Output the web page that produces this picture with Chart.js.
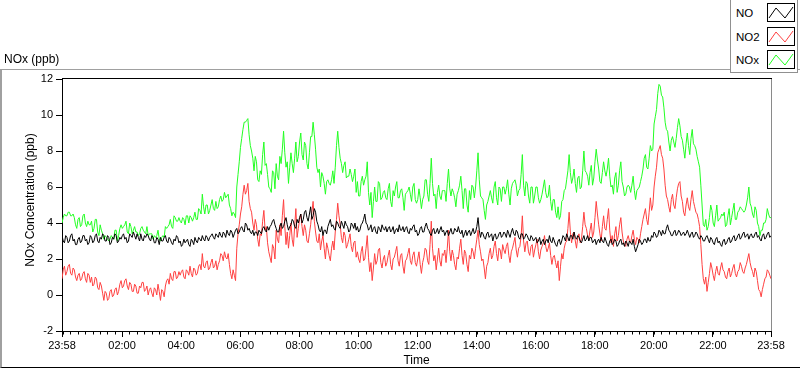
<!DOCTYPE html>
<html>
<head>
<meta charset="utf-8">
<script src="https://cdn.jsdelivr.net/npm/chart.js@4.4.1/dist/chart.umd.min.js"></script>
<style>
    html, body { margin: 0; padding: 0; background: #fff; }
    body { width: 800px; height: 369px; position: relative; overflow: hidden; font-family: "Liberation Sans", Arial, sans-serif; color: #000; }
    #panel { position: absolute; left: 0; top: 69px; width: 830px; height: 297px; border-top: 1px solid #a0a0a0; border-left: 2px solid #a0a0a0; border-bottom: 1px solid #000; }
    #chart { position: absolute; left: 0; top: 0; }
    #title { position: absolute; left: 4px; top: 52px; font-size: 12px; line-height: 14px; }
    #legend { position: absolute; left: 730px; top: -1px; width: 66px; height: 72px; border: 1px solid #909090; background: #fff; z-index: 2; }
    .row { position: absolute; left: 0; width: 66px; height: 20px; }
    .row span { position: absolute; left: 5px; top: 3px; font-size: 11.5px; line-height: 14px; }
    .row svg { position: absolute; left: 36px; top: 0; }
</style>
</head>
<body>
<div id="panel"></div>
<canvas id="chart" width="800" height="369"></canvas>
<div id="title">NOx (ppb)</div>
<div id="legend"></div>
<script>
// ======================================================================
// Data: samples every 5 minutes from 23:58, plus the in-between
// readings (2.5 minutes later) in the *Mid arrays
//
const stepMin = 5;
const seriesNames = ['NO', 'NO2', 'NOx'];
const seriesColors = ['#000000', '#ff4040', '#22ff22'];

const no = [
    3.3,2.9,3.2,3.0,3.4,3.1,2.8,3.2,3.0,3.3,3.1,2.9,
    3.2,3.0,3.4,2.9,3.1,3.3,3.0,3.2,2.9,3.1,3.3,3.0,
    3.1,3.4,3.2,3.0,3.3,3.5,3.1,3.2,3.4,3.0,3.2,3.3,
    3.0,3.2,2.9,3.1,3.2,3.0,3.3,2.9,3.1,2.8,3.0,3.2,
    3.0,2.8,2.9,3.1,2.7,3.0,3.2,2.9,3.1,3.3,3.0,3.2,
    3.2,3.4,3.1,3.3,3.5,3.2,3.4,3.6,3.3,3.5,3.4,3.7,
    3.5,3.8,3.5,3.9,3.7,3.4,3.3,3.5,3.6,3.4,3.8,3.5,
    3.6,3.9,4.2,3.7,3.5,4.0,3.8,4.3,3.6,3.9,4.1,3.7,
    4.0,4.5,4.2,4.7,4.1,4.9,4.4,4.6,3.9,3.5,3.3,3.6,
    3.8,4.2,3.9,3.6,4.0,3.7,3.9,4.1,3.8,3.6,3.9,4.0,
    3.8,3.6,4.0,4.5,3.9,3.7,3.5,3.8,3.4,3.7,3.9,3.6,
    3.5,3.8,3.6,3.4,3.7,3.9,3.6,3.5,3.8,3.4,3.6,3.9,
    3.6,3.4,3.8,3.5,4.0,3.6,3.3,3.7,3.5,3.4,3.8,3.6,
    3.5,3.3,3.7,3.4,3.6,3.8,3.4,3.2,3.6,3.5,3.3,3.7,
    3.5,4.3,3.2,3.4,3.1,3.5,3.3,3.0,3.4,3.2,3.5,3.3,
    3.4,3.6,3.2,3.7,3.3,3.5,3.1,3.4,3.2,3.3,3.0,3.2,
    3.1,2.9,3.2,3.0,2.8,3.1,3.3,2.9,3.0,2.7,3.1,3.0,
    3.2,3.4,3.0,3.3,3.5,3.1,3.2,2.9,3.3,3.1,3.0,3.2,
    3.0,2.8,3.1,3.2,2.9,3.0,2.7,3.1,2.9,3.0,2.8,3.1,
    2.9,3.0,2.7,2.9,3.1,2.4,2.8,3.0,2.9,3.1,3.2,3.0,
    3.2,3.4,3.3,3.5,3.6,3.4,3.9,3.5,3.3,3.6,3.4,3.5,
    3.4,3.3,3.6,3.2,3.5,3.3,3.4,3.1,3.2,3.0,3.3,2.9,
    3.1,2.8,3.2,3.0,2.7,3.1,2.9,3.2,3.0,3.3,3.1,3.4,
    3.2,3.5,3.3,3.1,3.4,3.2,3.5,3.3,3.0,3.4,3.2,3.5,
    3.3
];
const noMid = [
    3.0,3.3,2.9,3.3,3.0,2.8,3.1,2.9,3.3,3.0,2.8,3.3,
    2.9,3.3,3.0,3.2,3.4,3.0,3.3,2.8,3.2,3.4,2.9,3.2,
    3.3,3.1,2.9,3.4,3.2,3.3,3.4,3.0,3.1,3.3,3.4,3.1,
    3.3,2.9,3.2,2.8,3.0,3.2,3.0,3.2,2.9,3.1,3.3,2.9,
    2.7,3.1,3.0,2.8,3.1,2.8,3.0,3.2,3.0,3.1,3.3,3.0,
    3.3,3.2,3.4,3.2,3.3,3.5,3.2,3.4,3.6,3.2,3.6,3.4,
    3.7,3.6,4.0,3.6,3.5,3.6,3.5,3.3,3.5,3.7,3.6,3.8,
    3.8,4.1,3.9,3.5,3.8,3.7,4.1,3.9,3.8,4.2,3.8,4.2,
    4.3,4.0,4.6,4.3,4.5,4.2,4.8,4.1,3.6,3.8,3.6,3.4,
    4.0,3.8,3.7,4.1,3.8,4.1,3.7,3.9,3.5,4.0,3.7,3.6,
    3.5,3.9,4.2,4.0,3.6,3.9,3.7,3.5,3.8,3.5,3.7,3.8,
    3.7,3.5,3.8,3.6,3.5,3.6,3.8,3.7,3.5,3.7,3.8,3.5,
    3.3,3.7,3.5,3.8,3.7,3.4,3.6,3.4,3.7,3.6,3.5,3.3,
    3.6,3.5,3.4,3.7,3.5,3.5,3.6,3.4,3.3,3.6,3.5,3.4,
    3.8,3.6,3.5,3.2,3.4,3.2,3.4,3.3,3.1,3.4,3.2,3.5,
    3.2,3.4,3.5,3.4,3.6,3.2,3.4,3.1,3.4,3.1,3.3,3.0,
    3.2,3.0,2.8,3.1,3.0,2.9,3.0,3.2,2.8,3.0,2.8,3.3,
    3.0,3.2,3.3,3.1,3.2,3.3,3.0,3.1,3.0,3.3,3.2,2.9,
    3.1,3.0,2.9,3.0,3.2,2.8,3.0,2.8,3.1,2.7,3.0,2.8,
    2.7,2.9,3.0,2.8,2.7,2.6,3.1,2.8,3.1,2.9,3.0,3.3,
    3.5,3.2,3.6,3.3,3.4,3.7,3.6,3.3,3.5,3.3,3.6,3.3,
    3.5,3.4,3.4,3.4,3.2,3.5,3.2,3.3,3.0,3.2,3.1,3.2,
    2.9,3.1,2.9,2.8,3.0,2.8,3.1,2.9,3.2,3.0,3.3,3.1,
    3.4,3.2,3.4,3.3,3.2,3.4,3.2,3.1,3.3,3.1,3.4,3.2
];

const no2 = [
    0.9,1.6,1.3,1.7,1.1,1.4,0.8,1.2,0.9,1.3,0.7,1.1,
    1.0,0.6,0.9,0.3,0.5,-0.3,0.1,-0.2,0.3,0.0,0.4,0.2,
    0.8,0.5,0.9,0.3,0.6,0.2,0.5,0.1,0.4,0.7,0.3,0.0,
    0.4,-0.1,0.3,0.6,-0.3,0.2,0.5,0.9,1.2,0.8,1.3,1.0,
    1.1,1.4,0.9,1.3,1.6,1.0,1.4,1.2,1.7,2.3,1.5,1.9,
    1.5,2.0,1.6,1.4,1.9,2.2,2.4,2.0,1.7,0.9,1.1,2.6,
    3.9,4.9,6.1,5.8,5.2,4.6,3.6,3.9,2.7,3.3,4.7,3.8,
    2.4,1.8,2.6,3.6,2.9,3.3,5.3,2.8,2.6,4.0,2.7,4.8,
    3.7,4.5,3.3,3.6,2.9,3.9,5.2,3.5,2.9,2.5,3.3,2.0,
    2.6,1.9,3.0,3.5,5.1,3.9,2.9,3.3,2.8,3.4,2.4,3.0,
    2.4,1.8,2.7,2.0,3.3,1.3,0.8,2.3,1.9,2.6,1.5,2.2,
    1.8,2.5,1.4,2.1,2.7,1.6,2.3,1.2,2.0,2.6,1.7,2.4,
    1.6,2.4,1.2,2.1,2.5,1.7,4.1,1.9,1.4,2.6,1.6,2.2,
    1.8,3.6,1.9,2.2,1.4,2.0,3.1,1.7,2.3,1.3,2.0,2.4,
    2.6,3.6,2.4,2.0,0.9,1.8,2.6,2.2,3.0,1.9,2.5,2.8,
    2.3,2.9,1.8,2.6,3.2,2.1,2.7,4.4,2.4,3.0,2.2,2.8,
    2.5,3.1,2.0,2.7,3.3,2.4,2.9,1.7,2.2,1.5,0.8,2.3,
    2.6,3.0,4.6,2.9,3.5,2.6,3.4,3.1,4.6,3.7,3.1,4.0,
    3.5,5.2,3.9,3.0,4.4,3.6,4.8,2.9,2.7,3.8,3.3,4.3,
    3.0,2.7,3.3,2.9,3.6,2.8,3.1,3.4,4.2,4.8,3.9,5.4,
    5.0,6.6,7.9,8.3,7.6,6.1,5.3,4.6,5.6,4.8,5.9,6.3,
    5.2,4.4,5.4,4.7,5.8,4.9,4.5,3.8,1.7,0.6,0.2,1.2,
    1.5,0.8,1.6,1.1,1.8,1.3,0.9,1.5,1.2,1.7,1.0,1.4,
    1.6,1.2,1.7,2.3,1.5,1.0,1.3,0.3,-0.1,0.6,1.0,1.3,
    0.9
];
const no2Mid = [
    1.4,1.1,1.6,1.2,1.5,1.0,1.1,0.8,1.2,0.9,1.2,0.7,
    0.5,1.0,0.4,0.7,0.1,0.2,-0.3,0.2,-0.1,0.3,0.0,0.6,
    0.4,0.8,0.5,0.7,0.2,0.6,0.1,0.5,0.7,0.2,0.5,0.3,
    0.1,0.4,0.0,0.2,0.3,-0.1,0.8,0.6,0.9,1.3,0.9,1.3,
    1.3,1.0,1.4,1.1,1.2,1.5,1.1,1.6,1.4,1.6,1.8,1.4,
    1.8,1.5,1.9,1.7,2.3,1.9,2.1,2.3,1.2,1.4,0.8,3.4,
    4.5,5.6,5.6,6.2,4.8,4.0,4.2,3.1,3.4,4.1,3.6,2.9,
    2.1,2.8,2.0,3.1,3.9,4.4,3.8,3.5,3.3,3.1,3.8,3.2,
    4.2,3.8,3.9,3.0,3.4,4.6,4.1,3.0,3.4,3.0,2.6,2.9,
    2.2,2.6,2.5,4.2,4.4,3.2,3.5,2.6,3.1,2.7,2.9,2.1,
    2.0,2.4,1.9,2.6,2.1,1.8,1.5,1.7,2.5,1.8,2.0,1.6,
    2.2,1.7,2.0,2.4,1.9,2.2,1.6,1.9,2.3,1.9,2.2,1.8,
    2.0,1.7,1.8,2.6,1.9,2.8,2.6,2.2,2.0,1.9,2.3,2.5,
    2.6,2.4,2.5,1.7,2.1,2.6,2.2,2.5,1.7,2.2,2.6,2.0,
    3.1,2.8,1.9,1.5,1.6,2.3,2.0,2.7,2.3,2.6,2.0,2.5,
    2.7,2.2,2.4,2.9,2.5,2.6,3.3,3.0,2.9,2.4,2.7,2.1,
    2.8,2.4,2.5,2.9,2.7,2.6,2.2,2.1,1.8,1.9,1.6,2.0,
    2.9,3.7,3.5,3.4,3.0,3.2,2.9,3.8,3.9,3.3,3.6,3.2,
    4.3,4.5,3.4,3.8,3.7,4.2,3.6,3.3,3.4,3.0,3.9,3.5,
    2.8,3.1,3.0,3.3,3.1,3.2,2.9,3.8,4.5,4.2,4.6,4.7,
    6.0,7.1,8.1,7.8,7.0,5.5,4.9,5.3,5.0,5.4,6.2,5.5,
    4.6,5.0,4.9,5.3,5.2,4.6,4.2,2.8,0.9,1.0,0.7,1.8,
    1.1,1.3,1.2,1.5,1.4,1.0,1.3,1.0,1.5,1.2,1.3,1.8,
    1.3,1.5,2.0,1.8,1.3,1.5,0.8,0.2,0.3,0.9,1.4,1.1
];

const nox = [
    4.0,4.5,4.4,4.6,4.4,4.3,3.7,4.3,3.9,4.5,3.8,3.9,
    4.1,3.7,4.2,3.3,3.6,3.1,3.2,3.0,3.3,3.1,3.6,3.3,
    3.9,3.8,4.1,3.4,3.8,3.6,3.5,3.3,3.7,3.6,3.4,3.3,
    3.4,3.1,3.2,3.6,3.0,3.3,3.8,3.8,4.2,3.7,4.3,4.1,
    4.1,4.3,3.9,4.4,4.4,4.1,4.6,4.2,4.7,5.6,4.5,5.0,
    4.7,5.3,4.7,4.8,5.3,5.2,5.7,5.5,5.0,4.4,4.5,6.0,
    7.4,8.7,9.6,9.7,8.9,8.0,6.9,7.4,6.3,6.7,8.5,7.3,
    6.0,5.7,6.8,7.3,6.4,7.3,9.1,7.1,6.2,7.9,6.8,8.5,
    7.7,9.0,7.5,8.3,7.0,8.8,9.6,8.1,6.8,6.0,6.6,5.6,
    6.4,6.1,6.9,7.1,9.1,7.6,6.8,7.4,6.6,7.0,6.3,7.0,
    6.3,5.5,6.6,6.4,7.4,5.0,4.3,6.0,5.2,6.2,5.4,5.8,
    5.3,6.2,4.9,5.5,6.3,5.4,5.9,4.7,5.7,6.0,5.2,6.2,
    5.1,5.9,4.8,5.5,6.4,5.2,7.6,5.5,4.8,6.1,5.3,5.8,
    5.2,7.0,5.5,5.7,4.9,5.8,6.6,4.8,5.9,4.6,5.3,6.0,
    6.0,7.9,5.5,5.3,4.2,5.2,5.8,5.1,6.3,5.0,5.9,6.0,
    5.6,6.4,5.0,6.2,6.4,5.5,5.9,7.8,5.5,6.2,5.1,6.0,
    5.5,6.0,5.1,5.6,6.4,5.4,6.1,4.7,5.3,4.3,4.2,5.2,
    5.8,6.4,7.8,6.2,7.0,5.7,6.6,6.0,8.0,6.8,6.1,7.2,
    6.5,8.1,7.0,6.2,7.4,6.6,7.6,6.0,5.6,6.8,6.1,7.4,
    6.0,5.6,6.1,5.7,6.6,5.3,5.9,6.3,7.0,7.8,7.0,8.3,
    8.1,9.9,11.2,11.6,11.0,9.6,9.1,8.0,8.8,8.2,9.3,9.4,
    8.6,7.6,9.0,7.8,9.2,8.3,7.7,7.1,5.0,3.8,3.6,4.3,
    4.7,3.8,5.0,4.2,4.5,4.6,3.9,4.8,4.3,5.1,4.2,4.7,
    4.8,4.6,5.0,6.0,4.9,4.3,4.7,3.8,3.6,4.0,4.2,4.5,
    4.3
];
const noxMid = [
    4.3,4.4,4.6,4.4,4.5,3.9,4.2,3.8,4.4,4.0,4.1,3.9,
    3.5,4.2,3.5,3.9,3.4,3.3,3.1,3.1,3.2,3.6,3.0,3.7,
    3.7,3.9,3.5,4.0,3.4,3.8,3.5,3.4,3.8,3.5,3.8,3.4,
    3.4,3.3,3.3,3.1,3.2,3.2,3.7,3.9,3.8,4.4,4.1,4.3,
    4.0,4.2,4.4,4.0,4.3,4.3,4.2,4.8,4.5,4.9,5.0,4.5,
    5.0,4.8,5.2,4.9,5.5,5.3,5.4,5.6,4.8,4.6,4.3,6.7,
    8.2,9.2,9.6,9.8,8.3,7.6,7.7,6.4,6.9,7.8,7.2,6.7,
    5.9,6.9,5.9,6.6,7.7,8.1,7.9,7.4,7.1,7.3,7.6,7.4,
    8.5,7.8,8.5,7.3,7.9,8.8,8.9,7.1,7.0,6.8,6.2,6.3,
    6.2,6.4,6.2,8.3,8.2,7.3,7.2,6.5,6.6,6.7,6.6,5.7,
    5.5,6.3,6.1,6.6,5.7,5.7,5.2,5.2,6.3,5.3,5.7,5.4,
    5.9,5.2,5.8,6.0,5.4,5.8,5.4,5.6,5.8,5.6,6.0,5.3,
    5.3,5.4,5.3,6.4,5.6,6.2,6.2,5.6,5.7,5.5,5.8,5.8,
    6.2,5.9,5.9,5.4,5.6,6.1,5.8,5.9,5.0,5.8,6.1,5.4,
    6.9,6.4,5.4,4.7,5.0,5.5,5.4,6.0,5.4,6.0,5.2,6.0,
    5.9,5.6,5.9,6.3,6.1,5.8,6.7,6.1,6.3,5.5,6.0,5.1,
    6.0,5.4,5.3,6.0,5.7,5.5,5.2,5.3,4.6,4.9,4.4,5.3,
    5.9,6.9,6.8,6.5,6.2,6.5,5.9,6.9,6.9,6.6,6.8,6.1,
    7.4,7.5,6.3,6.8,6.9,7.0,6.6,6.1,6.5,5.7,6.9,6.3,
    5.5,6.0,6.0,6.1,5.8,5.8,6.0,6.6,7.6,7.1,7.6,8.0,
    9.5,10.3,11.7,11.1,10.4,9.2,8.5,8.6,8.5,8.7,9.8,8.8,
    8.1,8.4,8.3,8.7,8.4,8.1,7.4,6.1,3.9,4.2,3.8,5.0,
    4.0,4.4,4.1,4.3,4.4,3.8,4.4,3.9,4.7,4.2,4.6,4.9,
    4.7,4.7,5.4,5.1,4.5,4.9,4.0,3.3,3.6,4.0,4.8,4.3
];

// x ticks: minutes after 23:58 and their labels
const tickMinutes = [0, 122, 242, 362, 482, 602, 722, 842, 962, 1082, 1202, 1322, 1440];
const tickLabels = ['23:58', '02:00', '04:00', '06:00', '08:00', '10:00', '12:00',
    '14:00', '16:00', '18:00', '20:00', '22:00', '23:58'];
const minorFirst = 2, minorStep = 15;
const yMin = -2, yMax = 12, yStep = 2;

// ======================================================================
// Legend
//
const legend = document.getElementById('legend');
seriesNames.forEach((name, i) => {
    const row = document.createElement('div');
    row.className = 'row';
    row.style.top = [3, 27, 50][i] + 'px';
    row.innerHTML =
        `<span>${name}</span>` +
        `<svg width="28" height="19" viewBox="0 0 28 19">` +
        `<rect x="0.5" y="0.5" width="27" height="18" fill="#fff" stroke="#000"/>` +
        `<polyline points="2,15 9,5 18,15 26,4" fill="none" stroke="${seriesColors[i]}" stroke-width="1"/>` +
        `</svg>`;
    legend.appendChild(row);
});

// ======================================================================
// Chart
//
const toPoints = (base, mid) => base.flatMap((v, i) => i < mid.length
    ? [{ x: i * stepMin, y: v }, { x: i * stepMin + stepMin / 2, y: mid[i] }]
    : [{ x: i * stepMin, y: v }]);

const decor = {
    id: 'decor',
    afterDraw(chart) {
        const { ctx, chartArea: a, scales: { x } } = chart;
        ctx.save();
        ctx.lineWidth = 1;
        ctx.strokeStyle = '#000';
        ctx.beginPath();
        ctx.moveTo(a.left, a.top - 0.5);
        ctx.lineTo(a.right + 1, a.top - 0.5);
        ctx.stroke();
        ctx.strokeStyle = '#8a8a8a';
        ctx.beginPath();
        ctx.moveTo(a.right + 0.5, a.top);
        ctx.lineTo(a.right + 0.5, a.bottom);
        ctx.stroke();
        // minor ticks every 15 minutes
        ctx.strokeStyle = '#000';
        ctx.beginPath();
        for (let m = minorFirst; m <= 1440; m += minorStep) {
            const px = Math.round(x.getPixelForValue(m)) + 0.5;
            ctx.moveTo(px, a.bottom);
            ctx.lineTo(px, a.bottom + 3.5);
        }
        ctx.stroke();
        ctx.restore();
    }
};

new Chart(document.getElementById('chart'), {
    type: 'line',
    data: {
        datasets: [[no, noMid], [no2, no2Mid], [nox, noxMid]].map(([base, mid], i) => ({
            label: seriesNames[i],
            data: toPoints(base, mid),
            borderColor: seriesColors[i],
            borderWidth: 1,
            pointRadius: 0,
            tension: 0,
            fill: false
        }))
    },
    options: {
        responsive: false,
        animation: false,
        devicePixelRatio: 1,
        layout: { padding: { left: 0, top: 79, right: 29, bottom: 0 } },
        plugins: { legend: { display: false }, tooltip: { enabled: false } },
        scales: {
            x: {
                type: 'linear',
                min: 0,
                max: 1440,
                afterBuildTicks: scale => { scale.ticks = tickMinutes.map(v => ({ value: v })); },
                afterFit: scale => { scale.height = 38; },
                ticks: {
                    autoSkip: false,
                    maxRotation: 0,
                    padding: 2,
                    color: '#000',
                    font: { family: 'Liberation Sans', size: 11 },
                    callback: (v, i) => tickLabels[i]
                },
                grid: { drawOnChartArea: false, tickLength: 6, tickColor: '#000' },
                border: { color: '#000' },
                title: {
                    display: true,
                    text: 'Time',
                    color: '#000',
                    font: { family: 'Liberation Sans', size: 12 },
                    padding: { top: 0, bottom: 1 }
                }
            },
            y: {
                min: yMin,
                max: yMax,
                afterFit: scale => { scale.width = 62; },
                ticks: {
                    stepSize: yStep,
                    padding: 3,
                    color: '#000',
                    font: { family: 'Liberation Sans', size: 11 }
                },
                grid: { drawOnChartArea: false, tickLength: 6, tickColor: '#000' },
                border: { color: '#000' },
                title: {
                    display: true,
                    // leading spaces nudge the rotated title up a little
                    text: '   NOx Concentration (ppb)',
                    color: '#000',
                    font: { family: 'Liberation Sans', size: 12 },
                    padding: { top: 23, bottom: 0 }
                }
            }
        }
    },
    plugins: [decor]
});
</script>
</body>
</html>
